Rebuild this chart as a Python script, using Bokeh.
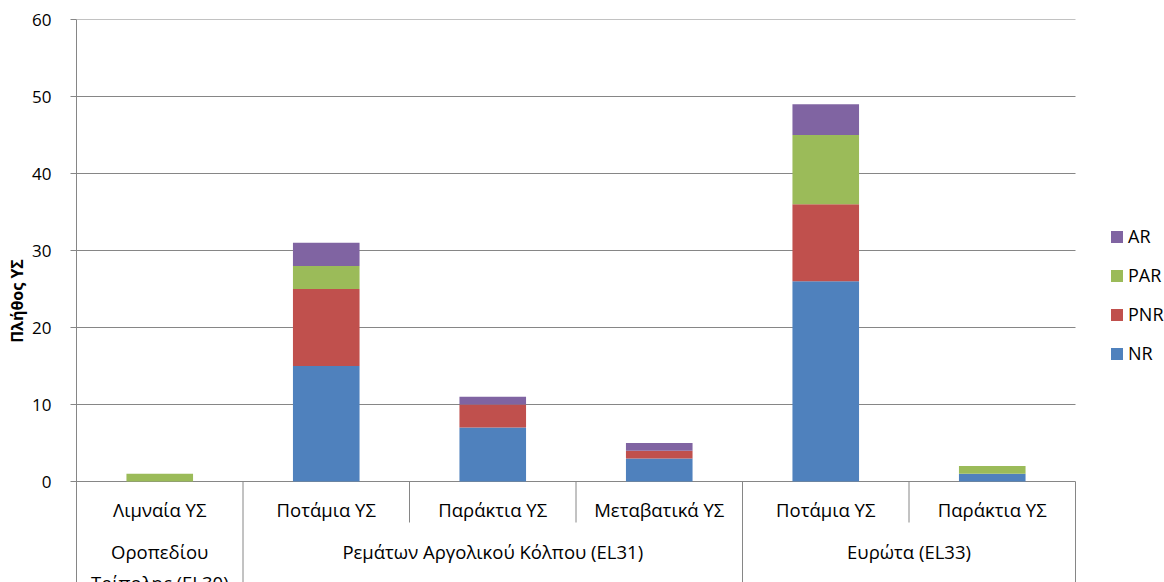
import numpy as np
from bokeh.plotting import figure
from bokeh.models import ColumnDataSource, Range1d, FixedTicker, Legend, LegendItem
from bokeh.embed import file_html
from bokeh.resources import INLINE
from bokeh.core.properties import value

# ---- data ----
groups = ["Οροπεδίου\nΤρίπολης (EL30)", "Ρεμάτων Αργολικού Κόλπου (EL31)", "Ευρώτα (EL33)"]
group_sizes = [1, 3, 2]
subcats = ["Λιμναία ΥΣ", "Ποτάμια ΥΣ", "Παράκτια ΥΣ", "Μεταβατικά ΥΣ", "Ποτάμια ΥΣ", "Παράκτια ΥΣ"]
NR = [0, 15, 7, 3, 26, 1]
PNR = [0, 10, 3, 1, 10, 0]
PAR = [1, 3, 0, 0, 9, 1]
AR = [0, 3, 1, 1, 4, 0]
series = ["NR", "PNR", "PAR", "AR"]
colors = ["#4F81BD", "#C0504D", "#9BBB59", "#8064A2"]
yticks = [0, 10, 20, 30, 40, 50, 60]
y_label = "Πλήθος ΥΣ"

# ---- layout constants (pixels) ----
FONT = "Open Sans"
GRID = "#868686"
W, H = 1164, 582
BORDER_L, BORDER_T = 76, 19
PLOT_W = 999            # width of the category area
PLOT_H = 462            # height of the 0..60 value area
n = len(subcats)
ymax = yticks[-1]
px_per_cat = PLOT_W / n
px_per_unit = PLOT_H / ymax
frame_w = W - BORDER_L
frame_h = H - BORDER_T
x_end = frame_w / px_per_cat
y_min = ymax - frame_h / px_per_unit

def py(px_below_zero):
    return -px_below_zero / px_per_unit

xpos = np.arange(n) + 0.5
src = ColumnDataSource(dict(x=xpos, NR=NR, PNR=PNR, PAR=PAR, AR=AR))

p = figure(width=W, height=H, x_range=Range1d(0, x_end), y_range=Range1d(y_min, ymax),
           output_backend="svg", toolbar_location=None, x_axis_location=None,
           min_border_left=BORDER_L, min_border_right=0, min_border_top=BORDER_T, min_border_bottom=0,
           outline_line_color=None, background_fill_color="white", border_fill_color="white")
p.grid.visible = False

# y axis
p.yaxis.ticker = FixedTicker(ticks=yticks)
p.yaxis.minor_tick_line_color = None
p.yaxis.major_tick_in = 0
p.yaxis.major_tick_out = 6
p.yaxis.axis_line_color = GRID
p.yaxis.major_tick_line_color = GRID
p.yaxis.major_label_text_font = FONT
p.yaxis.major_label_text_font_size = "17px"
p.yaxis.major_label_text_color = "black"
p.yaxis.major_label_standoff = 19
p.yaxis.axis_label = y_label
p.yaxis.axis_label_text_font = FONT
p.yaxis.axis_label_text_font_size = "16px"
p.yaxis.axis_label_text_font_style = "bold"
p.yaxis.axis_label_text_color = "black"
p.yaxis.axis_label_standoff = 1

# horizontal gridlines over the category area only
p.segment(x0=0, y0=yticks, x1=n, y1=yticks, line_color=GRID, line_width=1)

rs = p.vbar_stack(series, x="x", width=0.4, color=colors, line_color=None, source=src)

# category separators
bounds = np.arange(n + 1)
gb = np.cumsum([0] + group_sizes)
short = [b for b in bounds if b not in gb]
longb = [b for b in gb if b > 0]
p.segment(x0=short, y0=0, x1=short, y1=py(41), line_color=GRID, line_width=1)
p.segment(x0=longb, y0=0, x1=longb, y1=y_min, line_color=GRID, line_width=1)

# category labels
p.text(x=xpos, y=py(28), text=subcats, text_align="center", text_baseline="middle",
       text_font=value(FONT), text_font_size="18.5px", text_color="black")
gcent = (gb[:-1] + gb[1:]) / 2
p.text(x=gcent, y=py(57), text=groups, text_align="center", text_baseline="top",
       text_font=value(FONT), text_font_size="18.5px", text_color="black", text_line_height=1.25)

items = [LegendItem(label=s, renderers=[r]) for s, r in zip(series, rs)][::-1]
legend = Legend(items=items, location=(1033, 217), orientation="vertical",
                label_text_font=FONT, label_text_font_size="18px", label_text_color="black",
                glyph_width=15, glyph_height=15, label_height=15, spacing=15,
                padding=0, margin=0, label_standoff=4,
                border_line_color=None, background_fill_alpha=0)
p.add_layout(legend)

open("out.html", "w").write(file_html(p, INLINE))
